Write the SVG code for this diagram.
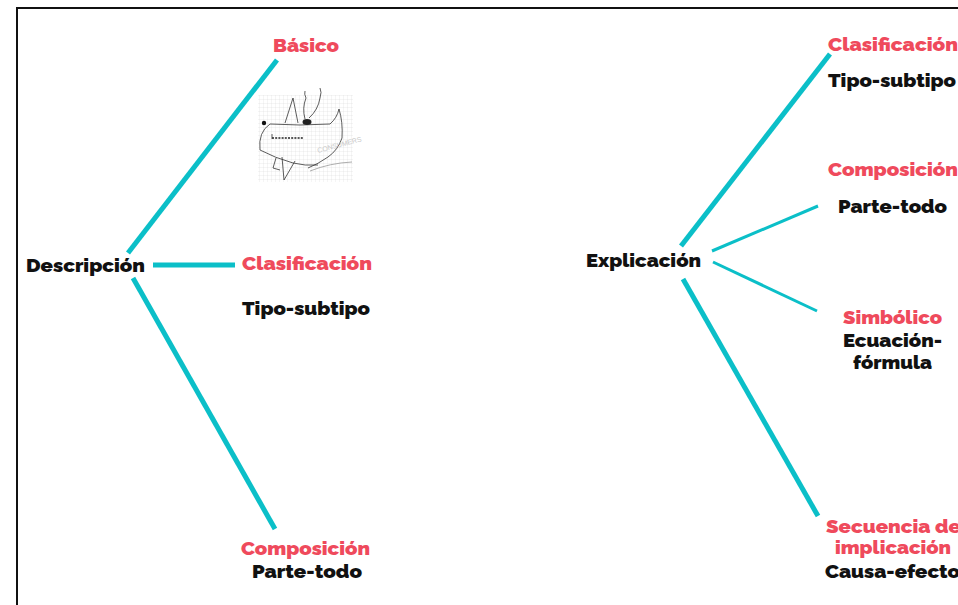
<svg xmlns="http://www.w3.org/2000/svg" width="958" height="605" viewBox="0 0 958 605">
  <style>
    .t { font-family: "Raleway", "Lato", "Open Sans", sans-serif; font-weight: 900; font-size: 19px; }
    .red { fill: #ef4a5c; }
    .blk { fill: #111111; }
    .thick { stroke: #0bbfc8; stroke-width: 5; stroke-linecap: butt; fill: none; }
    .thin { stroke: #0bbfc8; stroke-width: 3; stroke-linecap: butt; fill: none; }
    .grid { stroke: #d8d8d8; stroke-width: 0.5; }
    .ink { stroke: #333; stroke-width: 0.8; fill: none; }
  </style>
  <defs>
    <pattern id="sq" width="4" height="4" patternUnits="userSpaceOnUse">
      <path d="M4 0 V4 M0 4 H4" class="grid"/>
    </pattern>
  </defs>

  <rect width="958" height="605" fill="#fff"/>
  <!-- frame -->
  <path d="M17 605 V8 H958" stroke="#111" stroke-width="2" fill="none"/>

  <!-- connectors -->
  <g id="connectors">
    <line class="thick" x1="128" y1="253" x2="277" y2="60"/>
    <line class="thick" x1="153" y1="265" x2="235" y2="265"/>
    <line class="thick" x1="133" y1="278" x2="275" y2="529"/>
    <line class="thick" x1="681" y1="246" x2="830" y2="54"/>
    <line class="thin" x1="712" y1="251" x2="818" y2="206"/>
    <line class="thin" x1="713" y1="262" x2="817" y2="311"/>
    <line class="thick" x1="683" y1="279" x2="818" y2="516"/>
  </g>

  <!-- left branch -->
  <g id="descripcion"><text class="t blk" x="26" y="272" textLength="119" lengthAdjust="spacingAndGlyphs">Descripción</text></g>
  <g id="basico"><text class="t red" x="273" y="52" textLength="66" lengthAdjust="spacingAndGlyphs">Básico</text></g>

  <!-- hand-drawn sketch on squared paper -->
  <g id="sketch">
    <rect x="258" y="95" width="95" height="87" fill="url(#sq)"/>
    <circle cx="264" cy="123" r="2.2" fill="#111"/>
    <path class="ink" d="M270 124 Q300 126 330 124 Q337 118 339 109 Q343 122 342 138 Q338 150 328 157 Q318 164 308 168"/>
    <path class="ink" d="M260 150 Q275 158 293 163 Q305 166 318 165"/>
    <path class="ink" d="M270 124 Q258 132 260 150"/>
    <path class="ink" d="M285 123 L293 98 L298 123"/>
    <ellipse cx="307" cy="122" rx="4.5" ry="3" fill="#222"/>
    <path class="ink" d="M305 119 Q302 108 306 98 Q304 94 305 91"/>
    <path class="ink" d="M309 118 Q318 110 320 98 Q322 92 320 88"/>
    <path d="M272 138 H304" stroke="#222" stroke-width="1.5" stroke-dasharray="2 1.2"/>
    <path class="ink" d="M272 134 v5"/>
    <path class="ink" d="M282 157 L284 180 L295 161 M276 158 L273 168 L280 170"/>
    <path d="M310 171 Q330 163 352 162" stroke="#999" stroke-width="0.8" fill="none"/>
    <text x="318" y="153" font-family="Liberation Sans, sans-serif" font-size="7" fill="#c8c8c8" transform="rotate(-15 318 153)">CONSUMERS</text>
  </g>

  <g id="clasificacion-l">
    <text class="t red" x="242" y="270" textLength="130" lengthAdjust="spacingAndGlyphs">Clasificación</text>
    <text class="t blk" x="242" y="315" textLength="128" lengthAdjust="spacingAndGlyphs">Tipo-subtipo</text>
  </g>
  <g id="composicion-l">
    <text class="t red" x="241" y="555" textLength="129" lengthAdjust="spacingAndGlyphs">Composición</text>
    <text class="t blk" x="252" y="578" textLength="110" lengthAdjust="spacingAndGlyphs">Parte-todo</text>
  </g>

  <!-- right branch -->
  <g id="explicacion"><text class="t blk" x="586" y="267" textLength="115" lengthAdjust="spacingAndGlyphs">Explicación</text></g>
  <g id="clasificacion-r">
    <text class="t red" x="828" y="51" textLength="130" lengthAdjust="spacingAndGlyphs">Clasificación</text>
    <text class="t blk" x="828" y="87" textLength="128" lengthAdjust="spacingAndGlyphs">Tipo-subtipo</text>
  </g>
  <g id="composicion-r">
    <text class="t red" x="828" y="176" textLength="130" lengthAdjust="spacingAndGlyphs">Composición</text>
    <text class="t blk" x="838" y="213" textLength="109" lengthAdjust="spacingAndGlyphs">Parte-todo</text>
  </g>
  <g id="simbolico">
    <text class="t red" x="843" y="324" textLength="99" lengthAdjust="spacingAndGlyphs">Simbólico</text>
    <text class="t blk" x="843" y="347" textLength="99" lengthAdjust="spacingAndGlyphs">Ecuación-</text>
    <text class="t blk" x="853" y="369" textLength="79" lengthAdjust="spacingAndGlyphs">fórmula</text>
  </g>
  <g id="secuencia">
    <text class="t red" x="826" y="533" textLength="135" lengthAdjust="spacingAndGlyphs">Secuencia de</text>
    <text class="t red" x="835" y="554" textLength="116" lengthAdjust="spacingAndGlyphs">implicación</text>
    <text class="t blk" x="825" y="578" textLength="135" lengthAdjust="spacingAndGlyphs">Causa-efecto</text>
  </g>
</svg>
